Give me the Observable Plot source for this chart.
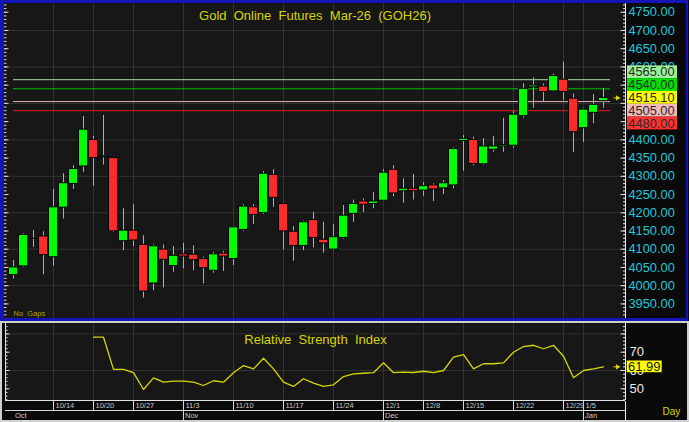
<!DOCTYPE html>
<html><head><meta charset="utf-8">
<script src="https://cdn.jsdelivr.net/npm/d3@7"></script>
<script src="https://cdn.jsdelivr.net/npm/@observablehq/plot@0.6"></script>
<style>
html,body{margin:0;padding:0;background:#d0d0d0;}
#wrap{position:relative;width:689px;height:422px;background:#d0d0d0;overflow:hidden;font-family:"Liberation Sans",Arial,sans-serif;}
#price{position:absolute;left:0;top:0;}
#rsi{position:absolute;left:2px;top:323px;}
#dates{position:absolute;left:2px;top:401px;}
#border{position:absolute;left:0;top:0;width:688px;height:321px;box-sizing:border-box;border-style:solid;border-color:#1414b8;border-width:3px 2px 3px 4px;pointer-events:none;}
svg{display:block;}
</style></head><body>
<div id="wrap"><div id="price"></div><div id="rsi"></div><div id="dates"></div><div id="border"></div></div>
<script>
// ---- data (daily candles, index 0..59) ----
const opens  = [4029,4053,4128,4135,4078,4214,4279,4327,4400,4352,4350,4122,4151,4112,4006,4099,4054,4086,4085,4073,
                4041,4088,4073,4153,4215,4199,4304,4224,4148,4109,4180,4126,4099,4131,4197,4231,4224,4233,4318,4259,
                4266,4261,4275,4267,4275,4397,4400,4333,4373,4382,4384,4465,4544,4546,4533,4565,4513,4432,4474,4506];
const highs  = [4069,4142,4151,4148,4264,4307,4329,4464,4410,4467,4352,4211,4222,4137,4112,4112,4107,4116,4109,4078,
                4091,4094,4162,4222,4222,4313,4318,4226,4162,4177,4201,4174,4167,4220,4235,4238,4255,4318,4329,4293,
                4305,4283,4279,4288,4378,4412,4407,4403,4409,4459,4478,4554,4570,4553,4580,4613,4526,4485,4524,4540];
const lows   = [4018,4050,4105,4030,4053,4183,4264,4311,4273,4331,4146,4096,4107,3966,3986,3994,4037,4046,4041,4005,
                4034,4039,4055,4149,4168,4195,4215,4098,4067,4096,4104,4089,4096,4128,4174,4201,4211,4231,4244,4226,
                4235,4245,4231,4250,4266,4314,4329,4331,4366,4366,4377,4460,4487,4505,4531,4508,4365,4393,4444,4487];
const closes = [4050,4139,4129,4084,4215,4281,4320,4428,4350,4355,4149,4151,4124,3984,4108,4071,4082,4080,4070,4048,
                4086,4080,4160,4217,4194,4307,4241,4149,4109,4174,4131,4116,4133,4192,4224,4222,4231,4310,4253,4266,
                4259,4273,4264,4281,4375,4403,4334,4382,4382,4386,4469,4540,4549,4531,4575,4531,4421,4483,4496,4515.10];

const rsiStart = 8;
const rsiValues = [78.2,78.2,60.6,60.6,58.8,49.6,56.0,53.6,54.2,54.2,53.6,51.8,54.4,53.6,58.8,62.7,60.9,66.7,60.9,53.6,
                   51.3,55.5,53.1,51.3,52.2,56.7,58.2,58.5,58.8,64.2,58.8,59.1,58.9,59.6,58.8,60.0,67.3,68.7,60.9,63.7,
                   63.7,64.2,70.0,73.1,73.8,71.9,73.8,67.8,56.0,60.0,60.9,61.99];

const dateTickIdx    = [4,8,12,17,22,27,32,37,41,45,50,55,57];
const dateTickLabels = ["10/14","10/20","10/27","11/3","11/10","11/17","11/24","12/1","12/8","12/15","12/22","12/29","1/5"];
const monthIdx    = [0,17,37,57];
const monthLabels = ["Oct","Nov","Dec","Jan"];

const priceTicks = d3.range(3950, 4751, 50);
const priceGrid  = d3.range(4000, 4701, 100);
const levelValues = [4565, 4540, 4505, 4480];
const levelColors = ["#a6dca0", "#00c400", "#e6b0b0", "#e41e1e"];
const boxValues = [4565, 4540, 4515.10, 4505, 4480];
const boxFills  = ["#9cf09c", "#00e000", "#ffff00", "#f4b8b8", "#ff3232"];
const rsiTicks = [50, 60, 70];
const rsiGrid  = [60, 80];

const title = "Gold\u00a0 Online\u00a0 Futures\u00a0 Mar-26\u00a0 (GOH26)";
const rsiTitle = "Relative\u00a0 Strength\u00a0 Index";

// ---- derived tables ----
const candles = opens.map((o, i) => ({i, open: o, high: highs[i], low: lows[i], close: closes[i], up: closes[i] >= o}));
const lastIdx = candles.length - 1;
const lastPrice = closes[lastIdx];
const levels = levelValues.map((v, j) => ({value: v, color: levelColors[j]}));
const lastPos = boxValues.indexOf(lastPrice);
const boxStep = 35.1;
const boxes = boxValues.map((v, j) => {
  const c = lastPrice + (lastPos - j) * boxStep;
  return {label: v.toFixed(2), y1: c - boxStep / 2, y2: c + boxStep / 2, c, fill: boxFills[j]};
});
const boxLo = d3.min(boxes, d => d.y1), boxHi = d3.max(boxes, d => d.y2);
// axis labels fully hidden behind the level boxes are not drawn
const priceLabels = priceTicks.filter(v => !(v > boxLo + 10 && v < boxHi - 10));
const rsi = rsiValues.map((v, j) => ({i: rsiStart + j, v}));
const lastRsi = rsiValues[rsiValues.length - 1];
const dateTicks = dateTickIdx.map((i, j) => ({i, label: dateTickLabels[j]}));
const months = monthIdx.map((i, j) => ({i, label: monthLabels[j]}));

const font = "Liberation Sans, Arial, sans-serif";
const xDomP = [-0.9, 61.2];
const xDomR = [-0.8, 61.2];
const priceDom = [3910, 4774];
const rsiDom = [43.6, 85.7];
const minorP = d3.range(3910, 4771, 10);
const minorR = d3.range(44, 86, 2);
const majorR = d3.range(50, 86, 10);
const grid = "#323232";
const yellow = "#d6d600";

const pricePlot = Plot.plot({
  width: 689, height: 321,
  marginLeft: 4, marginRight: 64, marginTop: 3, marginBottom: 3,
  style: {background: "#0a0a0a", fontFamily: font, overflow: "visible"},
  x: {domain: xDomP, axis: null},
  y: {domain: priceDom, axis: null},
  marks: [
    Plot.frame({fill: "#171717"}),
    Plot.ruleX(dateTickIdx, {x: d => d, stroke: grid}),
    Plot.ruleY(priceGrid, {y: d => d, stroke: grid}),
    Plot.ruleY(levels, {y: "value", x1: () => 0, x2: () => lastIdx + 0.7, stroke: "color"}),
    Plot.ruleX(candles, {x: "i", y1: "low", y2: "high", stroke: "#c4c400"}),
    Plot.rect(candles, {x1: d => d.i - 0.45, x2: d => d.i + 0.45, y1: "open", y2: "close",
      fill: d => d.up ? "#00ff00" : "#ff2a2a", stroke: "#050505", strokeWidth: 1}),
    // right axis
    Plot.ruleX([xDomP[1]], {x: d => d, stroke: "#f0f0f0"}),
    Plot.ruleY(minorP, {y: d => d, x1: () => xDomP[1] - 0.2, x2: () => xDomP[1], stroke: "#e0e0e0"}),
    Plot.ruleY(priceTicks, {y: d => d, x1: () => xDomP[1] - 0.45, x2: () => xDomP[1], stroke: "#e0e0e0"}),
    Plot.text(priceLabels, {y: d => d, text: d => d.toFixed(2), frameAnchor: "right", dx: 3, textAnchor: "start",
      fill: "#1ec8d8", fontSize: 12.8}),
    // left axis ticks
    Plot.ruleY(minorP, {y: d => d, x1: () => xDomP[0], x2: () => xDomP[0] + 0.25, stroke: "#d8d8d8"}),
    Plot.ruleY(priceTicks, {y: d => d, x1: () => xDomP[0], x2: () => xDomP[0] + 0.45, stroke: "#d8d8d8"}),
    // level boxes
    Plot.rect(boxes, {x1: () => xDomP[1] + 0.2, x2: () => xDomP[1] + 5.2, y1: "y1", y2: "y2", fill: "fill"}),
    Plot.text(boxes, {x: () => xDomP[1] + 0.28, y: "c", text: "label", textAnchor: "start", fill: "#2a2a2a", fontSize: 12.8}),
    // last price marker
    Plot.ruleY([lastPrice], {y: d => d, x1: () => lastIdx + 1.05, x2: () => lastIdx + 1.4, stroke: yellow}),
    Plot.dot([lastPrice], {x: () => lastIdx + 1.4, y: d => d, symbol: "triangle", r: 2, rotate: 90, fill: yellow}),
    Plot.text([title], {text: d => d, frameAnchor: "top", dy: 7.7, fontSize: 13, fill: yellow}),
    Plot.text(["No\u00a0 Gaps"], {text: d => d, frameAnchor: "bottom-left", dx: 9, dy: -2.5, textAnchor: "start", fontSize: 7.5, fill: "#a8a800"})
  ]
});
document.getElementById("price").appendChild(pricePlot);

const rsiPlot = Plot.plot({
  width: 685, height: 78,
  marginLeft: 3, marginRight: 62, marginTop: 0, marginBottom: 1,
  style: {background: "#0a0a0a", fontFamily: font, overflow: "visible"},
  x: {domain: xDomR, axis: null},
  y: {domain: rsiDom, axis: null},
  marks: [
    Plot.frame({fill: "#171717"}),
    Plot.ruleX(dateTickIdx, {x: d => d, stroke: grid}),
    Plot.ruleY(rsiGrid, {y: d => d, stroke: grid}),
    Plot.line(rsi, {x: "i", y: "v", stroke: yellow, strokeWidth: 1.3}),
    Plot.ruleX([xDomR[0]], {x: d => d, stroke: "#e0e0e0"}),
    Plot.ruleY([rsiDom[0]], {y: d => d, stroke: "#e0e0e0"}),
    Plot.ruleY(minorR, {y: d => d, x1: () => xDomR[0], x2: () => xDomR[0] + 0.25, stroke: "#d8d8d8"}),
    Plot.ruleY(majorR, {y: d => d, x1: () => xDomR[0], x2: () => xDomR[0] + 0.45, stroke: "#d8d8d8"}),
    Plot.ruleX([xDomR[1]], {x: d => d, stroke: "#f0f0f0"}),
    Plot.ruleY(minorR, {y: d => d, x1: () => xDomR[1] - 0.2, x2: () => xDomR[1], stroke: "#e0e0e0"}),
    Plot.ruleY(majorR, {y: d => d, x1: () => xDomR[1] - 0.45, x2: () => xDomR[1], stroke: "#e0e0e0"}),
    Plot.text(rsiTicks, {y: d => d, text: d => String(d), frameAnchor: "right", dx: 4, textAnchor: "start", fill: "#e8e8e8", fontSize: 13}),
    Plot.rect([lastRsi], {x1: () => xDomR[1] + 0.17, x2: () => xDomR[1] + 3.67, y1: d => d - 3.2, y2: d => d + 3.2, fill: "#ffff00"}),
    Plot.text([lastRsi], {x: () => xDomR[1] + 0.25, y: d => d, text: d => d.toFixed(2), textAnchor: "start", fill: "#1a1a1a", fontSize: 13}),
    Plot.ruleY([lastRsi], {y: d => d, x1: () => lastIdx + 1.05, x2: () => lastIdx + 1.4, stroke: yellow}),
    Plot.dot([lastRsi], {x: () => lastIdx + 1.4, y: d => d, symbol: "triangle", r: 2, rotate: 90, fill: yellow}),
    Plot.text([rsiTitle], {text: d => d, frameAnchor: "top", dy: 11, fontSize: 13, fill: yellow})
  ]
});
document.getElementById("rsi").appendChild(rsiPlot);

const datePlot = Plot.plot({
  width: 685, height: 19,
  marginLeft: 3, marginRight: 62, marginTop: 0, marginBottom: 0,
  style: {background: "#0a0a0a", fontFamily: font, overflow: "visible"},
  x: {domain: xDomR, axis: null},
  y: {domain: [0, 1.9], axis: null},
  marks: [
    Plot.ruleY([1], {y: d => d, stroke: "#d8d8d8"}),
    Plot.ruleX(dateTicks, {x: "i", y1: () => 1, y2: () => 1.9, stroke: "#d8d8d8"}),
    Plot.ruleX(months.slice(1), {x: "i", y1: () => 0, y2: () => 1, stroke: "#d8d8d8"}),
    Plot.ruleX([xDomR[1]], {x: d => d, y1: () => 0, y2: () => 1.9, stroke: "#f0f0f0"}),
    Plot.text(dateTicks, {x: "i", y: () => 1.45, text: "label", textAnchor: "start", dx: 2, fontSize: 7.5, fill: "#c8c8c8"}),
    Plot.text(months, {x: "i", y: () => 0.5, text: "label", textAnchor: "start", dx: 1.5, fontSize: 7.5, fill: "#c8c8c8"}),
    Plot.text(["Day"], {text: d => d, frameAnchor: "right", y: () => 0.85, dx: 37, textAnchor: "start", fontSize: 10, fill: yellow})
  ]
});
document.getElementById("dates").appendChild(datePlot);
</script>
</body></html>
